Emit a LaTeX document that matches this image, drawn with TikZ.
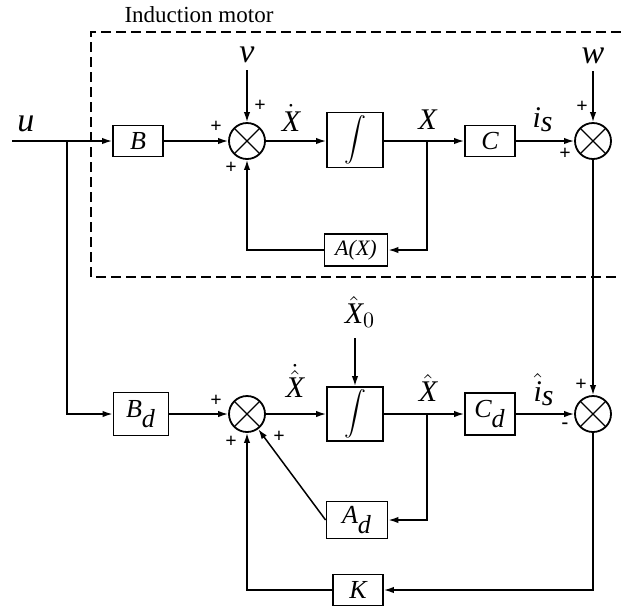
\documentclass[tikz,border=0pt]{standalone}
\usepackage{exscale}
\usepackage{fontspec}
\setmainfont{Liberation Serif}
\usetikzlibrary{arrows.meta}
\newcommand{\mv}[1]{\textit{#1}}
\newcommand{\bigint}{\fontsize{11}{13}\selectfont$\displaystyle\int$}
\tikzset{blk/.style={draw,line width=0.9pt,inner sep=0pt,
    font=\fontsize{13}{15}\selectfont\itshape},
  sumnode/.style={draw,circle,line width=0.9pt,minimum size=18pt,inner sep=0pt,
    path picture={\draw[line width=0.6pt]
      (path picture bounding box.north west)--(path picture bounding box.south east)
      (path picture bounding box.north east)--(path picture bounding box.south west);}},
  sig/.style={font=\fontsize{15}{17}\selectfont,inner sep=1pt},
  src/.style={font=\fontsize{17}{19}\selectfont},
  sgn/.style={font=\fontsize{10}{11}\selectfont\bfseries,inner sep=0pt},
  wire/.style={line width=0.75pt},
  arr/.style={wire,-{Latex[length=5pt,width=3.2pt]}},
  motorbox/.style={line width=0.75pt,dash pattern=on 5pt off 2.5pt}}

\begin{document}
\begin{tikzpicture}[x=0.5pt,y=-0.5pt]
  \useasboundingbox (0,0) rectangle (621,607);
  % motor part
  \node[blk,minimum width=25pt,minimum height=15.5pt] (b) at (138,141) {B};
  \node[sumnode] (sa) at (247,141) {};
  \node[blk,minimum width=28pt,minimum height=27.5pt] (ia) at (355,140) {\bigint};
  \node[blk,minimum width=25pt,minimum height=15.5pt] (c) at (490,141) {C};
  \node[sumnode] (sb) at (593,141) {};
  \node[blk,minimum width=31.5pt,minimum height=16pt,font=\fontsize{11}{13}\selectfont\itshape] (ax) at (356,250) {A(X)};
  % observer
  \node[blk,minimum width=27.5pt,minimum height=21.5pt] (bd) at (141,414) {B$_{\mv{d}}$};
  \node[sumnode] (sc) at (247,414) {};
  \node[blk,minimum width=28pt,minimum height=27pt] (ib) at (355,414) {\bigint};
  \node[blk,minimum width=25pt,minimum height=21pt] (cd) at (490,414) {C$_{\mv{d}}$};
  \node[sumnode] (sd) at (593,414) {};
  \node[blk,minimum width=30.5pt,minimum height=18.5pt] (ad) at (357,520) {A$_{\mv{d}}$};
  \node[blk,minimum width=25pt,minimum height=15.5pt] (k) at (358,590) {K};

  % signal labels
  \node[font=\fontsize{11.5}{13}\selectfont] (title) at (199,15) {Induction motor};
  \node[src,inner sep=1pt] (u) at (26,124) {\mv{u}};
  \node[src] (v) at (247,55) {\mv{v}};
  \node[src] (w) at (593,56) {\mv{w}};
  \node[sig] (xd) at (291,118) {$\dot{\mv{X}}$};
  \node[sig] (x) at (428,120) {\mv{X}};
  \node[sig] (is) at (543,120) {$\mv{i}_{\mv{s}}$};
  \node[sig] (xhd) at (295,381) {$\dot{\hat{\mv{X}}}$};
  \node[sig] (xh) at (428,388) {$\hat{\mv{X}}$};
  \node[sig] (ihs) at (544,390) {$\hat{\mv{i}}_{\mv{s}}$};
  \node[sig,inner sep=5pt] (xz) at (360,312) {$\hat{\mv{X}}_0$};

  % signs at the summing points
  \foreach \px/\py [count=\i] in {260/106,216/127,231/168,582/107,565/154,
      216/401,231/442,279/437,581/385}
    \node[sgn] (p\i) at (\px,\py) {+};
  \node[sgn] (m1) at (565,426) {-};

  \coordinate (ua) at (12,141);
  \coordinate (jn) at (67,141);
  \coordinate (xa) at (427,141);
  \coordinate (xb) at (427,414);
  \draw[motorbox] (621,32) -| (91,277) -- (621,277);

  \draw[arr] (ua) -- (b);
  \draw[arr] (jn) |- (bd);
  \draw[arr] (b) -- (sa);
  \draw[arr] (v) -- (sa);
  \draw[arr] (sa) -- (ia.west |- sa);
  \draw[arr] (ia.east |- c) -- (c);
  \draw[arr] (xa) |- (ax);
  \draw[arr] (ax) -| (sa);
  \draw[arr] (c) -- (sb);
  \draw[arr] (w) -- (sb);
  \draw[arr] (sb) -- (sd);

  \draw[arr] (bd) -- (sc);
  \draw[arr] (sc) -- (ib);
  \draw[arr] (xz.south -| ib.north) -- (ib);
  \draw[arr] (ib) -- (cd);
  \draw[arr] (xb) |- (ad);
  \draw[arr] (ad.west) -- (sc);
  \draw[arr] (cd) -- (sd);
  \draw[arr] (sd) |- (k);
  \draw[arr] (k) -| (sc);
\end{tikzpicture}
\end{document}
